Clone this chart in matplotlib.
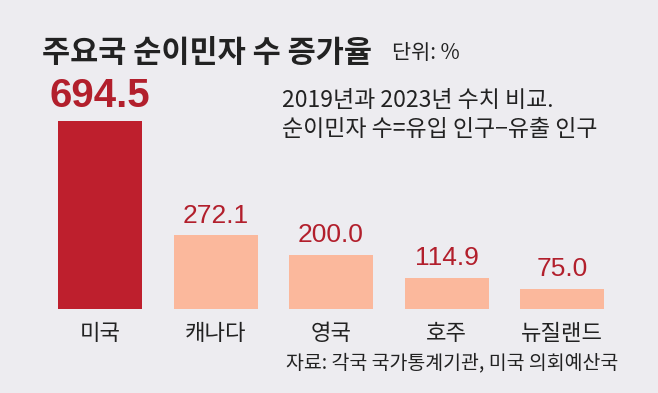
import matplotlib
matplotlib.use("Agg")
import matplotlib.pyplot as plt
from matplotlib import font_manager

categories = ["미국", "캐나다", "영국", "호주", "뉴질랜드"]
values = [694.5, 272.1, 200.0, 114.9, 75.0]
value_labels = ["694.5", "272.1", "200.0", "114.9", "75.0"]
title = "주요국 순이민자 수 증가율"
unit = "단위: %"
note_lines = ["2019년과 2023년 수치 비교.", "순이민자 수=유입 인구−유출 인구"]
source = "자료: 각국 국가통계기관, 미국 의회예산국"

names = {f.name for f in font_manager.fontManager.ttflist}
num_font = "Liberation Sans Narrow" if "Liberation Sans Narrow" in names else "Liberation Sans"
KR = ["Noto Sans CJK KR", "DejaVu Sans"]

BG = "#edecf0"
DARK = "#be1f2d"
LIGHT = "#fbb89c"
NUMC = "#b21f2c"
TXT = "#222222"

W, H = 658, 393
fig = plt.figure(figsize=(W / 100, H / 100), dpi=100, facecolor=BG)
ax = fig.add_axes([0, 0, 1, 1])
ax.set_facecolor(BG)

# pixel mapping
px_per_cat = 115.5
x0_px = 100
base_px = 309
px_per_unit = 188 / 694.5
ax.set_xlim(-x0_px / px_per_cat, (W - x0_px) / px_per_cat)
ax.set_ylim(-(H - base_px) / px_per_unit, base_px / px_per_unit)
ax.axis("off")

xs = list(range(len(categories)))
colors = [DARK] + [LIGHT] * (len(categories) - 1)
ax.bar(xs, values, width=84 / px_per_cat, color=colors, linewidth=0)

for i, (v, lab) in enumerate(zip(values, value_labels)):
    if i == 0:
        ax.annotate(lab, (i, v), xytext=(0, 10), textcoords="offset points",
                    ha="center", va="baseline", fontsize=29, fontweight="bold",
                    family=num_font, color=NUMC)
    else:
        ax.annotate(lab, (i, v), xytext=(0, 9), textcoords="offset points",
                    ha="center", va="baseline", fontsize=19,
                    family=num_font, color=NUMC)

for i, c in enumerate(categories):
    ax.annotate(c, (i, 0), xytext=(0, -22.5), textcoords="offset points",
                ha="center", va="baseline", fontsize=16, family=KR, color=TXT)

fig.text(42 / W, 1 - 62 / H, title, fontsize=22, fontweight="bold",
         family=KR, color=TXT, ha="left", va="baseline")
fig.text(392 / W, 1 - 59 / H, unit, fontsize=15, family=KR, color=TXT,
         ha="left", va="baseline")
fig.text(282 / W, 1 - 107 / H, note_lines[0], fontsize=16.5, family=KR,
         color=TXT, ha="left", va="baseline")
fig.text(282 / W, 1 - 136 / H, note_lines[1], fontsize=16.5, family=KR,
         color=TXT, ha="left", va="baseline")
fig.text(618 / W, 1 - 368 / H, source, fontsize=14, family=KR, color=TXT,
         ha="right", va="baseline")

fig.savefig("out.png", dpi=100, facecolor=BG)
